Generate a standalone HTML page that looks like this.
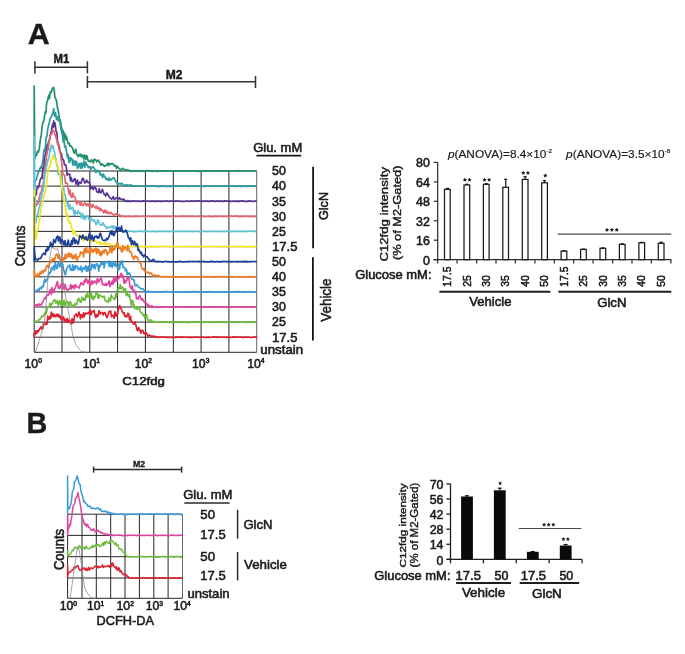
<!DOCTYPE html>
<html><head><meta charset="utf-8"><style>
html,body{margin:0;padding:0;background:#fff;}
body{width:685px;height:654px;overflow:hidden;font-family:"Liberation Sans",sans-serif;}
svg{display:block;filter:blur(0.3px);}
svg text{font-family:"Liberation Sans",sans-serif;}
</style></head><body>
<svg width="685" height="654" viewBox="0 0 685 654">
<rect width="685" height="654" fill="#fff"/>
<g stroke="#262626" stroke-width="1.0" fill="none"><line x1="34.2" y1="171" x2="34.2" y2="352.3"/><line x1="62" y1="171" x2="62" y2="352.3"/><line x1="89.8" y1="171" x2="89.8" y2="352.3"/><line x1="117.6" y1="171" x2="117.6" y2="352.3"/><line x1="145.4" y1="171" x2="145.4" y2="352.3"/><line x1="173.3" y1="171" x2="173.3" y2="352.3"/><line x1="201.1" y1="171" x2="201.1" y2="352.3"/><line x1="228.9" y1="171" x2="228.9" y2="352.3"/><line x1="256.7" y1="171" x2="256.7" y2="352.3" stroke="#555" stroke-width="0.9"/><line x1="34.2" y1="171" x2="256.7" y2="171"/><line x1="34.2" y1="186.1" x2="256.7" y2="186.1"/><line x1="34.2" y1="201.2" x2="256.7" y2="201.2"/><line x1="34.2" y1="216.3" x2="256.7" y2="216.3"/><line x1="34.2" y1="231.4" x2="256.7" y2="231.4"/><line x1="34.2" y1="246.6" x2="256.7" y2="246.6"/><line x1="34.2" y1="261.7" x2="256.7" y2="261.7"/><line x1="34.2" y1="276.8" x2="256.7" y2="276.8"/><line x1="34.2" y1="291.9" x2="256.7" y2="291.9"/><line x1="34.2" y1="307" x2="256.7" y2="307"/><line x1="34.2" y1="322.1" x2="256.7" y2="322.1"/><line x1="34.2" y1="337.2" x2="256.7" y2="337.2"/><line x1="34.2" y1="352.3" x2="256.7" y2="352.3"/></g>
<g fill="none" stroke-width="1.7" stroke-linejoin="round"><path d="M34.2 171 L34.2 86 L34.8 158.8 L35.6 154.6 L36.5 155.4 L37.4 151.3 L38.3 152.3 L39.2 149.6 L39.9 143 L40.5 139.1 L41.3 134.9 L42.1 126.7 L42.9 122.2 L43.7 121.5 L44.5 116.6 L45.2 111.8 L46 112.8 L46.6 102.9 L47.3 101.7 L48 98 L48.8 95.2 L49.5 98.7 L50.2 91.8 L50.9 92.7 L51.5 91.1 L52.4 88.6 L53.5 87.3 L54.2 90.3 L55 97.9 L55.8 98.9 L56.5 100.8 L57.5 108 L58.5 111.8 L59.5 120.4 L60.3 119.8 L61.1 125.8 L61.9 129 L62.6 132.3 L63.3 130.9 L64 138.1 L64.8 133.4 L65.5 139.7 L66.3 136.2 L67 139.6 L67.8 142.1 L68.5 143.9 L69.2 143.1 L70 146.1 L70.7 145.9 L71.6 146.8 L72.6 148.3 L73.5 151.5 L74.2 153.2 L75 150.9 L75.8 149.1 L76.5 154.4 L77.4 154.9 L78.2 156.7 L79.1 154.3 L80 155.9 L80.8 154.2 L81.5 157 L82.3 155.3 L83 155.2 L83.8 159.2 L84.5 155.2 L85.3 155.7 L86 159.5 L86.8 155.6 L87.5 158.3 L88.4 161.2 L89.3 161.2 L90.2 161.9 L91.1 160 L91.9 159.8 L92.7 162.5 L93.4 162.9 L94.2 159.1 L95 159.6 L95.8 159.8 L96.7 161.8 L97.6 160.8 L98.4 160.1 L99.3 162.1 L100.2 163.3 L101.1 165.3 L102 163.7 L102.7 164.5 L103.5 165.2 L104.2 166.3 L105 165.7 L105.7 165.8 L106.5 165.4 L107.2 164 L108 163.1 L108.7 165.7 L109.5 163.6 L110.4 164.1 L111.2 163.9 L112.1 163.7 L113 163.8 L113.9 165 L114.8 166.2 L115.6 165.4 L116.5 168.4 L117.3 166.4 L118 167.2 L118.8 168.1 L119.5 168.6 L120.3 170.1 L121 170.4 L121.8 169 L122.5 168.3 L123.3 168.7 L124 169.6 L124.9 170.8 L125.8 169.6 L126.7 169.5 L127.6 170.5 L128.4 170.1 L129.1 170.9 L129.9 170.3 L130.7 171.4 L131.4 171.4 L132.2 171.1 L133 170.8 L133.7 170.6 L134.5 171.1 L135.3 171.1 L136.1 170.8 L136.9 170.8 L137.6 171.2 L138.4 171.3 L139.2 171.3 L140 171 L141.2 171.2 L142.4 171.1 L143.6 170.8 L144.8 171 L146 170.9 L147.2 170.7 L148.4 170.7 L149.6 170.9 L150.8 170.9 L152 171.1 L153.2 171.3 L154.4 171 L155.6 171.3 L156.8 171.3 L158 171.3 L159.2 170.9 L160.4 170.8 L161.6 170.8 L162.8 170.8 L164 170.8 L165.2 171.1 L166.4 171.2 L167.6 171.2 L168.8 171 L170 171.1 L171.2 171.2 L172.4 170.8 L173.6 171.1 L174.8 171.2 L176 171.2 L177.2 171.2 L178.4 171 L179.6 170.8 L180.8 171.2 L182 170.9 L183.2 171.2 L184.4 171.3 L185.6 170.9 L186.8 170.9 L188 171.3 L189.2 171.1 L190.4 170.8 L191.6 170.8 L192.8 170.8 L194 171.2 L195.2 171.2 L196.4 170.8 L197.6 171.2 L198.8 171.3 L200 171.1 L201.2 170.9 L202.4 171 L203.6 170.8 L204.8 170.7 L206 171.3 L207.2 171.1 L208.4 171 L209.6 171.3 L210.8 171 L212 171.2 L213.2 171.2 L214.4 170.8 L215.6 170.9 L216.8 170.9 L218 170.8 L219.2 171.1 L220.4 170.9 L221.6 171 L222.8 170.8 L224 171.2 L225.2 170.9 L226.4 171 L227.6 171.1 L228.8 171.2 L230 171 L231.2 171.3 L232.4 171 L233.6 171 L234.8 171 L236 170.7 L237.2 171 L238.4 170.8 L239.6 170.7 L240.8 171.2 L242 170.8 L243.2 171 L244.4 171.1 L245.6 171 L246.8 170.9 L248 171 L249.2 171 L250.4 171.2 L251.6 170.8 L252.8 171 L254 170.8 L255.2 170.9 L256.4 171.2 L256.7 171" stroke="#23906c"/><path d="M34.2 186.1 L35 181.1 L36 180.3 L36.9 177.4 L37.6 174.8 L38.3 172.9 L39 170.6 L39.8 169.1 L40.7 166.8 L41.5 168.2 L42.4 163.2 L43.2 158.9 L43.9 150.1 L44.6 151.6 L45.4 147 L46.1 137.9 L46.9 136.4 L47.8 128.6 L48.7 124.7 L49.4 122.6 L50.1 118.4 L51 117.7 L52 114.8 L52.9 113.5 L53.7 108.7 L54.6 116.2 L55.5 112.5 L56.5 119.7 L57.5 117 L58.4 120.9 L59.3 119.7 L60 121.6 L60.6 127.2 L61.5 131 L62.5 136.1 L63.3 142.2 L64 140.1 L64.8 147.2 L65.7 146.4 L66.6 152.1 L67.5 157.6 L68.3 154.5 L69 162.5 L69.8 162.1 L70.5 157.5 L71.3 159.6 L72 158.9 L72.8 165.2 L73.5 160.4 L74.3 162.2 L75 165.5 L75.8 161.2 L76.6 161.6 L77.4 168.3 L78.1 167.5 L78.9 163.5 L79.7 163.6 L80.5 168.3 L81.3 163 L82.2 168 L83 164.8 L83.9 161.1 L84.8 167.3 L85.7 162.1 L86.6 165.1 L87.4 165.2 L88.3 167.6 L89.2 166.6 L90 166.6 L90.8 169.8 L91.7 167.3 L92.5 167.4 L93.4 166.7 L94.2 168.8 L95 169.2 L95.7 172.5 L96.5 171.4 L97.3 170.1 L98 171.7 L98.8 171.8 L99.6 170.9 L100.3 175.1 L101.1 174.4 L101.9 174.6 L102.6 177.6 L103.4 174.1 L104.2 176.1 L105.1 177.1 L105.9 179.5 L106.7 178.5 L107.5 179.4 L108.3 180.6 L109.2 177.8 L110 179.9 L110.8 180.1 L111.6 179.5 L112.5 178 L113.3 178.1 L114.1 177.8 L115.1 180.3 L116.1 182 L116.9 182.1 L117.6 184.7 L118.4 184.3 L119.2 183.4 L119.9 183.6 L120.7 184.1 L121.5 183.2 L122.2 183.6 L123 185.5 L123.8 185.8 L124.5 185.1 L125.3 186.1 L126.1 184.8 L126.8 184.9 L127.6 185.1 L128.4 185.3 L129.2 185.4 L129.9 184.9 L130.7 184.9 L131.5 185.5 L132.2 185.5 L133 186.1 L134.2 186 L135.4 185.8 L136.6 185.8 L137.8 186 L139 185.9 L140.2 186.2 L141.4 186.1 L142.6 186.3 L143.8 186.2 L145 186.2 L146.2 186.3 L147.4 186 L148.6 186 L149.8 186.4 L151 185.9 L152.2 186.2 L153.4 186.2 L154.6 185.8 L155.8 186.3 L157 186.3 L158.2 186.2 L159.4 186.3 L160.6 186.3 L161.8 185.9 L163 186.1 L164.2 186.1 L165.4 186.3 L166.6 186.3 L167.8 186.3 L169 186.2 L170.2 186.3 L171.4 186.2 L172.6 186.2 L173.8 185.9 L175 185.8 L176.2 185.9 L177.4 186 L178.6 185.9 L179.8 186.3 L181 186.1 L182.2 186.2 L183.4 186.2 L184.6 186.2 L185.8 186.1 L187 185.8 L188.2 186.3 L189.4 186.3 L190.6 186.1 L191.8 186.1 L193 186.2 L194.2 185.8 L195.4 186.3 L196.6 186 L197.8 185.9 L199 186 L200.2 186.2 L201.4 185.9 L202.6 186.3 L203.8 186.4 L205 186.1 L206.2 186 L207.4 186.1 L208.6 186.2 L209.8 186.3 L211 186.2 L212.2 186.2 L213.4 185.9 L214.6 185.9 L215.8 186 L217 186.3 L218.2 186 L219.4 186.2 L220.6 185.8 L221.8 185.8 L223 186 L224.2 186.2 L225.4 186.2 L226.6 186.2 L227.8 186 L229 186.1 L230.2 186.1 L231.4 186.1 L232.6 185.9 L233.8 186.3 L235 185.9 L236.2 186.4 L237.4 186.4 L238.6 185.8 L239.8 186.1 L241 186.3 L242.2 186.4 L243.4 186.1 L244.6 186 L245.8 185.9 L247 186.4 L248.2 185.9 L249.4 186.2 L250.6 185.9 L251.8 186.1 L253 186.4 L254.2 185.9 L255.4 186.3 L256.6 186.1 L256.7 186.1" stroke="#2b9a9c"/><path d="M34.2 201.2 L35.4 193.6 L36.2 194.9 L36.9 188.9 L37.7 186.7 L38.4 187.6 L39.2 184.7 L40.1 180.1 L41.1 178 L42 178.4 L42.9 167.9 L43.7 169.4 L44.6 156.4 L45.5 154.8 L46.3 151.3 L47.1 145.8 L47.9 144 L48.7 141.7 L49.5 140.1 L50.2 135.3 L51 132.9 L51.8 128.8 L52.5 124.2 L53.1 127.4 L53.7 120.8 L54.4 126.5 L55 122.9 L56 131.1 L56.8 132 L57.5 140.9 L58.3 143.6 L59.1 146.3 L59.8 150.2 L60.6 153.6 L61.4 153.4 L62.1 157.4 L62.9 159.8 L63.7 160.2 L64.4 165 L65.2 164.6 L66.1 165.7 L67.1 175.3 L68 174.1 L68.8 174 L69.7 174.4 L70.5 180.8 L71.3 177.7 L72.1 181.6 L72.9 181.6 L73.7 180.5 L74.4 178.8 L75.2 178.8 L76 184.2 L76.8 181.7 L77.5 180.1 L78.2 185.7 L79 183 L79.8 182.2 L80.5 183.4 L81.3 182.8 L82.2 179 L83 178.1 L83.9 180.5 L84.8 183 L85.7 182.3 L86.6 180.1 L87.4 182.3 L88.3 182.6 L89.2 181.8 L90 184.3 L90.8 189 L91.7 186.8 L92.5 187.9 L93.4 189.6 L94.2 186.9 L95 187.3 L95.9 188.5 L96.7 191.9 L97.5 191.9 L98.3 192.6 L99.2 188.6 L100 192.1 L100.8 192.9 L101.6 191.5 L102.4 189.2 L103.2 191.8 L104.1 194.2 L104.9 194.8 L105.7 196 L106.5 193.1 L107.4 193.4 L108.2 195.3 L109.1 196.5 L110 197.9 L110.8 198.2 L111.6 199.1 L112.4 198.5 L113.2 196.6 L114 198.9 L114.7 199.4 L115.5 198.6 L116.3 197.5 L117.1 197.5 L117.9 198.7 L118.7 199 L119.5 197.6 L120.3 199 L121.2 199.3 L122 199.1 L122.8 199.9 L123.7 199 L124.5 200 L125.3 201.4 L126.1 201 L126.9 201.5 L127.7 200.6 L128.4 200.7 L129.2 201.6 L130 201.2 L131.2 201.3 L132.4 201.1 L133.6 200.9 L134.8 201.2 L136 201.3 L137.2 201.2 L138.4 201.1 L139.6 201.3 L140.8 201.5 L142 201.1 L143.2 200.9 L144.4 201.1 L145.6 201.2 L146.8 201.3 L148 201 L149.2 201.4 L150.4 201.4 L151.6 201.2 L152.8 201 L154 201.5 L155.2 201.1 L156.4 201.4 L157.6 201.1 L158.8 201.1 L160 201.4 L161.2 201.1 L162.4 201.5 L163.6 201.2 L164.8 201 L166 201.1 L167.2 201.2 L168.4 201.3 L169.6 201.5 L170.8 201 L172 201.2 L173.2 201 L174.4 201.5 L175.6 201 L176.8 201 L178 201 L179.2 201.2 L180.4 201.5 L181.6 201.5 L182.8 201.4 L184 201.5 L185.2 201.5 L186.4 201.1 L187.6 201 L188.8 201.5 L190 201.4 L191.2 200.9 L192.4 201.3 L193.6 201.1 L194.8 201.1 L196 201.1 L197.2 201 L198.4 200.9 L199.6 201.1 L200.8 201.1 L202 201.5 L203.2 201 L204.4 201.5 L205.6 201 L206.8 201.1 L208 201.4 L209.2 201.4 L210.4 201.2 L211.6 200.9 L212.8 201.2 L214 201.1 L215.2 201.5 L216.4 201 L217.6 201.1 L218.8 201.5 L220 200.9 L221.2 201.2 L222.4 201.4 L223.6 201.4 L224.8 200.9 L226 200.9 L227.2 201 L228.4 201.5 L229.6 201.1 L230.8 201.4 L232 201.5 L233.2 201.1 L234.4 201.1 L235.6 201.5 L236.8 201.3 L238 201.1 L239.2 201.3 L240.4 201.1 L241.6 201.1 L242.8 200.9 L244 201.4 L245.2 201.5 L246.4 201.3 L247.6 201.5 L248.8 200.9 L250 201.1 L251.2 201.2 L252.4 201.5 L253.6 201.5 L254.8 201.2 L256 201.1 L256.7 201.2" stroke="#573795"/><path d="M34.2 216.3 L35.2 209.3 L36 203.7 L36.8 205 L37.6 204 L38.4 202.2 L39.2 197.7 L40 194.9 L40.7 192.4 L41.5 192.8 L42.3 185.7 L43 186.6 L43.8 179.7 L44.6 169.6 L45.5 165.1 L46.5 156.1 L47.3 151.3 L48.2 149.4 L49.2 140.9 L50.1 136 L51 134.5 L51.8 134.3 L52.6 129.9 L53.4 130.7 L54.2 131.7 L55.1 134.7 L56 137.7 L56.8 139.8 L57.5 144.3 L58.2 143.8 L59 149.2 L59.8 151.2 L60.5 153.9 L61.2 159.9 L62 165.4 L62.9 173.8 L63.7 174.4 L64.6 175.4 L65.5 183.3 L66.5 183 L67.4 183.7 L68.3 189.7 L69.2 194.4 L70.1 189.8 L71 196.5 L71.9 197.5 L72.9 193.1 L73.8 196.7 L74.5 196.7 L75.3 198.1 L76 201.3 L76.8 204.2 L77.5 201.4 L78.4 202.4 L79.3 201.7 L80.2 205.2 L81.1 201.9 L81.9 205.1 L82.8 205.7 L83.7 204.6 L84.5 203 L85.3 203 L86.1 205.2 L86.9 205.8 L87.7 203.7 L88.5 204.6 L89.2 206.5 L90 204 L90.8 204.7 L91.5 207.4 L92.2 206.5 L93 204.5 L93.8 206.5 L94.7 207.4 L95.5 208 L96.3 206 L97.2 208.7 L98 207.7 L98.8 207.6 L99.7 210.8 L100.5 208.5 L101.3 210 L102.2 209.8 L103 212 L103.8 212.8 L104.7 210 L105.5 212.3 L106.3 210.7 L107.2 213.4 L108 211.8 L108.8 213.2 L109.6 213.7 L110.4 212.8 L111.2 212.3 L112 213.8 L112.8 214.2 L113.6 215 L114.5 214.3 L115.3 214 L116.1 214.6 L116.9 214 L117.6 215 L118.4 216.1 L119.2 214.7 L119.9 216.2 L120.7 216.6 L121.4 215.7 L122.2 216.3 L123.4 216.1 L124.6 216.6 L125.8 216.6 L127 216.3 L128.2 216.1 L129.4 216.6 L130.6 216.3 L131.8 216.6 L133 216.4 L134.2 216.5 L135.4 216.1 L136.6 216.5 L137.8 216.2 L139 216.3 L140.2 216.5 L141.4 216.5 L142.6 216.1 L143.8 216.2 L145 216.3 L146.2 216.3 L147.4 216.3 L148.6 216.1 L149.8 216.2 L151 216.5 L152.2 216.6 L153.4 216.1 L154.6 216.4 L155.8 216.5 L157 216.1 L158.2 216.5 L159.4 216.1 L160.6 216.4 L161.8 216.4 L163 216.4 L164.2 216.2 L165.4 216.3 L166.6 216.4 L167.8 216.3 L169 216.4 L170.2 216.3 L171.4 216.3 L172.6 216 L173.8 216.4 L175 216.3 L176.2 216.2 L177.4 216.5 L178.6 216.5 L179.8 216.3 L181 216.1 L182.2 216.3 L183.4 216.1 L184.6 216.1 L185.8 216.3 L187 216.1 L188.2 216.3 L189.4 216.3 L190.6 216.1 L191.8 216.4 L193 216.1 L194.2 216.5 L195.4 216.5 L196.6 216.3 L197.8 216.1 L199 216.3 L200.2 216.3 L201.4 216.6 L202.6 216.1 L203.8 216.5 L205 216.6 L206.2 216.5 L207.4 216.5 L208.6 216.1 L209.8 216.6 L211 216.3 L212.2 216.6 L213.4 216.6 L214.6 216.1 L215.8 216.5 L217 216.6 L218.2 216.1 L219.4 216.2 L220.6 216.5 L221.8 216.1 L223 216.6 L224.2 216.2 L225.4 216.5 L226.6 216.1 L227.8 216.3 L229 216.6 L230.2 216.2 L231.4 216.2 L232.6 216.3 L233.8 216.2 L235 216.1 L236.2 216.1 L237.4 216.1 L238.6 216.6 L239.8 216.4 L241 216.6 L242.2 216.1 L243.4 216.5 L244.6 216.1 L245.8 216.3 L247 216.4 L248.2 216.2 L249.4 216.6 L250.6 216.4 L251.8 216.4 L253 216.6 L254.2 216.1 L255.4 216.6 L256.6 216.4 L256.7 216.3" stroke="#e2646c"/><path d="M34.2 231.4 L34.2 136 L35.2 221.7 L36.1 222.4 L37.1 215.3 L38 214.2 L38.9 208.2 L39.8 206.6 L40.7 197.2 L41.5 198.2 L42.2 192.5 L43 190.8 L43.8 184.1 L44.5 178.4 L45.3 172.7 L46 168.5 L46.8 164.8 L47.5 162 L48.3 158.7 L49.1 157.8 L49.9 148.9 L50.6 150.9 L51.4 145 L52.2 147.6 L53 145.8 L53.8 150.2 L54.5 151.7 L55.2 157.9 L56 158.9 L56.8 165.9 L57.5 165.5 L58.3 174.4 L59 172 L59.8 173.7 L60.6 180.5 L61.3 184.7 L62 186.5 L62.8 185.4 L63.5 186.6 L64.3 194.2 L65.1 194.7 L65.9 199.6 L66.7 200.8 L67.5 206.2 L68.2 202.6 L69 209.2 L69.8 204.5 L70.5 208.8 L71.3 208.9 L72.1 207.8 L72.9 207.7 L73.7 212 L74.4 215.3 L75.2 210.5 L76 213.8 L76.8 212.9 L77.5 213.6 L78.2 210.8 L79 212.6 L79.8 213.6 L80.5 212.8 L81.3 217.9 L82.1 217.9 L82.9 213.9 L83.6 218.8 L84.4 217.4 L85.2 219.4 L86 216.7 L86.7 216 L87.5 216.7 L88.2 215.6 L89 219.9 L89.7 219.8 L90.5 220.8 L91.2 217.9 L92 220 L92.8 220.1 L93.6 221.1 L94.4 220.1 L95.2 222.4 L96 224.4 L96.8 224.2 L97.7 219.7 L98.5 220.9 L99.4 223.6 L100.2 224.9 L101.1 224.4 L101.9 225.3 L102.7 223.2 L103.4 223.2 L104.2 225.2 L105 226 L105.7 226.5 L106.5 228.3 L107.2 227.8 L108 227.2 L108.8 227.8 L109.5 227.4 L110.3 227 L111 226.3 L111.8 227.6 L112.6 225.8 L113.3 228.8 L114.1 226.3 L114.9 226.4 L115.6 229.2 L116.4 227.5 L117.2 226.8 L117.9 227.1 L118.7 229.3 L119.5 229.4 L120.2 229.9 L121 228.7 L121.8 230.4 L122.5 231.1 L123.3 231.1 L124.1 231.3 L124.8 231.3 L125.6 231.5 L126.4 231.6 L127.1 230.6 L127.9 231.5 L129.1 231.3 L130.3 231.2 L131.5 231.2 L132.7 231.6 L133.9 231.6 L135.1 231.5 L136.3 231.6 L137.5 231.5 L138.7 231.3 L139.9 231.2 L141.1 231.2 L142.3 231.6 L143.5 231.3 L144.7 231.3 L145.9 231.4 L147.1 231.2 L148.3 231.3 L149.5 231.3 L150.7 231.6 L151.9 231.4 L153.1 231.3 L154.3 231.7 L155.5 231.4 L156.7 231.7 L157.9 231.5 L159.1 231.2 L160.3 231.4 L161.5 231.4 L162.7 231.6 L163.9 231.3 L165.1 231.6 L166.3 231.5 L167.5 231.3 L168.7 231.7 L169.9 231.2 L171.1 231.6 L172.3 231.2 L173.5 231.1 L174.7 231.3 L175.9 231.6 L177.1 231.7 L178.3 231.1 L179.5 231.4 L180.7 231.4 L181.9 231.6 L183.1 231.3 L184.3 231.4 L185.5 231.3 L186.7 231.6 L187.9 231.3 L189.1 231.7 L190.3 231.3 L191.5 231.3 L192.7 231.6 L193.9 231.4 L195.1 231.2 L196.3 231.5 L197.5 231.2 L198.7 231.6 L199.9 231.6 L201.1 231.6 L202.3 231.5 L203.5 231.4 L204.7 231.4 L205.9 231.4 L207.1 231.7 L208.3 231.2 L209.5 231.7 L210.7 231.2 L211.9 231.3 L213.1 231.3 L214.3 231.7 L215.5 231.4 L216.7 231.4 L217.9 231.7 L219.1 231.3 L220.3 231.4 L221.5 231.5 L222.7 231.6 L223.9 231.6 L225.1 231.5 L226.3 231.3 L227.5 231.3 L228.7 231.2 L229.9 231.6 L231.1 231.5 L232.3 231.6 L233.5 231.2 L234.7 231.4 L235.9 231.6 L237.1 231.5 L238.3 231.2 L239.5 231.4 L240.7 231.7 L241.9 231.3 L243.1 231.3 L244.3 231.3 L245.5 231.6 L246.7 231.6 L247.9 231.2 L249.1 231.2 L250.3 231.3 L251.5 231.3 L252.7 231.5 L253.9 231.2 L255.1 231.3 L256.3 231.3 L256.7 231.4" stroke="#62c2d6"/><path d="M34.2 246.6 L34.2 190 L35.3 238.9 L36.2 238.5 L37.2 230.5 L38.1 229 L39 222.2 L39.9 215.9 L40.8 210.6 L41.8 205.8 L42.7 201.8 L43.6 198.3 L44.5 193.6 L45.4 191.3 L46.3 185.2 L47 180.1 L47.7 174.7 L48.4 168.2 L49.1 167.4 L49.8 166.1 L50.5 165 L51.1 159.9 L51.8 159.6 L52.5 157.4 L53.3 155.3 L54 158.3 L55 159.6 L56 160 L56.6 163.5 L57.2 164.2 L58.2 167.3 L59.1 170.6 L60 173.5 L61 180.4 L61.9 187.5 L62.5 190.9 L63.2 192.6 L63.9 198.6 L64.6 203.6 L65.3 206.6 L66 211.9 L66.7 216.7 L67.4 214.1 L68.2 220.9 L68.9 220.3 L69.7 223.4 L70.5 222.2 L71.2 228 L72 227.8 L72.9 234 L73.8 232.1 L74.7 230.4 L75.6 233.7 L76.6 235.3 L77.5 234.8 L78.3 237.1 L79.2 236.2 L80 236.3 L80.8 235.7 L81.5 238.7 L82.2 237.9 L83 240.2 L83.8 241.2 L84.6 237.9 L85.3 236.1 L86.1 237.8 L86.9 236.4 L87.7 238.6 L88.4 240.1 L89.2 238.8 L90 238.8 L90.8 238.9 L91.7 242.2 L92.5 240.9 L93.3 240.1 L94.2 241 L95 240.6 L95.8 240.5 L96.7 243.3 L97.5 242.8 L98.3 242.4 L99.2 241.7 L100 244.4 L100.8 242.3 L101.6 244.1 L102.4 244.3 L103.2 243.4 L104 243.8 L104.8 242.6 L105.6 244.8 L106.4 243.4 L107.2 243.5 L108 244.3 L108.8 244.4 L109.5 244.4 L110.2 244 L111 245.8 L111.8 244.9 L112.5 245.1 L113.2 245.6 L114 245.7 L114.8 246.2 L115.6 246 L116.4 247 L117.2 246 L118 246.6 L119.2 246.7 L120.4 246.8 L121.6 246.7 L122.8 246.3 L124 246.7 L125.2 246.6 L126.4 246.3 L127.6 246.3 L128.8 246.8 L130 246.6 L131.2 246.4 L132.4 246.3 L133.6 246.3 L134.8 246.4 L136 246.7 L137.2 246.5 L138.4 246.3 L139.6 246.8 L140.8 246.7 L142 246.4 L143.2 246.8 L144.4 246.6 L145.6 246.7 L146.8 246.7 L148 246.8 L149.2 246.7 L150.4 246.8 L151.6 246.4 L152.8 246.7 L154 246.6 L155.2 246.7 L156.4 246.5 L157.6 246.8 L158.8 246.6 L160 246.4 L161.2 246.4 L162.4 246.3 L163.6 246.5 L164.8 246.3 L166 246.5 L167.2 246.3 L168.4 246.5 L169.6 246.5 L170.8 246.6 L172 246.8 L173.2 246.3 L174.4 246.8 L175.6 246.5 L176.8 246.6 L178 246.6 L179.2 246.8 L180.4 246.5 L181.6 246.5 L182.8 246.8 L184 246.3 L185.2 246.6 L186.4 246.6 L187.6 246.3 L188.8 246.6 L190 246.7 L191.2 246.8 L192.4 246.4 L193.6 246.8 L194.8 246.6 L196 246.5 L197.2 246.8 L198.4 246.3 L199.6 246.7 L200.8 246.6 L202 246.5 L203.2 246.8 L204.4 246.5 L205.6 246.5 L206.8 246.6 L208 246.7 L209.2 246.4 L210.4 246.5 L211.6 246.5 L212.8 246.6 L214 246.7 L215.2 246.4 L216.4 246.7 L217.6 246.5 L218.8 246.6 L220 246.4 L221.2 246.6 L222.4 246.8 L223.6 246.6 L224.8 246.7 L226 246.4 L227.2 246.4 L228.4 246.4 L229.6 246.6 L230.8 246.6 L232 246.7 L233.2 246.3 L234.4 246.7 L235.6 246.8 L236.8 246.6 L238 246.3 L239.2 246.4 L240.4 246.3 L241.6 246.4 L242.8 246.8 L244 246.6 L245.2 246.6 L246.4 246.7 L247.6 246.8 L248.8 246.6 L250 246.6 L251.2 246.6 L252.4 246.7 L253.6 246.6 L254.8 246.7 L256 246.4 L256.7 246.6" stroke="#f1e52a"/><path d="M34.2 261.7 L34.2 246.5 L34.9 254.9 L35.5 259.6 L36.3 259.2 L37.2 260.1 L38 259.9 L38.9 258.4 L39.8 258.6 L40.7 258.2 L41.5 256.7 L42.2 254.8 L43 254.3 L43.8 253.1 L44.5 253.8 L45.3 254.7 L46 249.5 L46.8 251.2 L47.5 247.6 L48.3 250 L49.1 247.3 L49.9 245.6 L50.6 242.3 L51.3 244.2 L52 247 L52.9 245.4 L53.7 239.6 L54.5 241.9 L55.3 242.6 L56.2 238.4 L57 236.9 L57.7 236.1 L58.4 241 L59.2 237.1 L59.9 237.1 L60.6 243.3 L61.5 239.8 L62.4 240.1 L63.2 241.8 L64.1 245 L65 240.6 L65.8 245.2 L66.6 244.3 L67.4 245 L68.2 240.2 L69 244.5 L69.8 245.7 L70.7 246.3 L71.6 240.5 L72.5 244.2 L73.3 237.9 L74.2 238.5 L75.1 243.5 L75.9 240 L76.7 241.1 L77.5 243.6 L78.2 244 L79 240.2 L79.8 235.7 L80.5 236.9 L81.2 236.9 L82 238.6 L82.8 235 L83.6 236.6 L84.4 238.8 L85.2 238.9 L86 237 L86.7 239.6 L87.5 240.2 L88.2 238.5 L89 234.7 L89.7 233 L90.5 239.9 L91.2 238.8 L92 235.3 L92.7 237.8 L93.5 240.8 L94.2 238.2 L95 236.4 L95.8 236.9 L96.5 236.1 L97.3 238 L98 237 L98.8 238.1 L99.6 234.7 L100.4 233.2 L101.2 235.8 L102 238.6 L102.8 240.2 L103.5 240.5 L104.2 240.3 L105 240.2 L105.8 240.5 L106.5 238.4 L107.3 239.5 L108.2 238.4 L109 236.7 L110 233.2 L111 230.8 L111.8 234.3 L112.5 231.2 L113.2 234.8 L114 235.7 L114.8 232.7 L115.6 232.2 L116.4 229.5 L117.2 227.4 L117.6 228.7 L118.4 229.6 L119.2 227.7 L120 230.9 L120.7 230.4 L121.5 226.1 L122.2 230.9 L123.1 232.2 L124 231.1 L124.8 231.7 L125.5 230.2 L126.3 230.9 L127 232.3 L127.7 235 L128.5 238 L129.2 238.3 L129.9 240.6 L130.7 237.8 L131.4 244.6 L132.2 240.5 L133 242.9 L133.7 244.7 L134.5 241.3 L135.2 243.3 L136 245.4 L136.8 243.7 L137.5 244.9 L138.2 250.7 L139 249.5 L139.8 251.3 L140.5 253.5 L141.3 252.3 L142.1 255.2 L142.8 255 L143.6 256.9 L144.3 255 L145.1 255.2 L145.8 256.6 L146.5 256.8 L147.3 256.8 L148.2 258.7 L149 259.1 L149.8 261.1 L150.6 261.4 L151.5 260.6 L152.3 260 L153.2 259.3 L154 259.9 L154.9 261.1 L155.7 261.6 L156.6 261.8 L157.4 261.4 L158.6 261.6 L159.8 261.6 L161 261.5 L162.2 261.9 L163.4 262 L164.6 261.5 L165.8 261.4 L167 261.5 L168.2 261.6 L169.4 261.9 L170.6 261.9 L171.8 261.9 L173 261.4 L174.2 261.8 L175.4 261.8 L176.6 261.7 L177.8 262 L179 261.4 L180.2 261.4 L181.4 261.8 L182.6 261.9 L183.8 261.8 L185 261.5 L186.2 261.7 L187.4 261.8 L188.6 261.4 L189.8 261.6 L191 261.5 L192.2 261.4 L193.4 261.6 L194.6 261.5 L195.8 261.5 L197 261.4 L198.2 261.8 L199.4 261.4 L200.6 261.8 L201.8 261.5 L203 261.4 L204.2 261.9 L205.4 261.5 L206.6 261.9 L207.8 261.9 L209 261.9 L210.2 261.4 L211.4 261.6 L212.6 261.4 L213.8 261.9 L215 261.9 L216.2 261.7 L217.4 261.6 L218.6 261.6 L219.8 261.9 L221 261.6 L222.2 261.7 L223.4 261.4 L224.6 261.5 L225.8 261.4 L227 261.8 L228.2 261.7 L229.4 261.4 L230.6 261.9 L231.8 261.5 L233 261.6 L234.2 261.5 L235.4 261.5 L236.6 261.9 L237.8 261.6 L239 261.5 L240.2 261.7 L241.4 261.6 L242.6 261.9 L243.8 261.4 L245 261.9 L246.2 261.4 L247.4 261.9 L248.6 261.8 L249.8 261.5 L251 261.6 L252.2 261.5 L253.4 261.5 L254.6 261.5 L255.8 261.6 L256.7 261.7" stroke="#1c3f98"/><path d="M34.2 276.8 L34.2 270 L35 277.2 L35.9 275.1 L36.8 276.6 L37.6 273.9 L38.5 275 L39.2 275.3 L40 272.1 L40.7 274.2 L41.5 272.3 L42.2 270.7 L43 272.9 L43.8 271 L44.5 269.8 L45.3 271.2 L46 267.3 L46.8 266 L47.5 265.5 L48.3 267.9 L49 266.9 L49.8 262.3 L50.5 261 L51.3 262.6 L52.1 259.4 L52.9 258.2 L53.6 260.2 L54.3 260.2 L55 258.6 L55.8 255.4 L56.7 253.9 L57.5 255.4 L58.3 258.5 L59 254.7 L59.8 257.6 L60.6 261.9 L61.4 261.9 L62.2 259.4 L62.9 261.7 L63.7 257.8 L64.5 259.4 L65.2 254.4 L66 258.7 L66.7 255.6 L67.5 254.1 L68.2 256.8 L69 252.8 L69.7 256.5 L70.5 256.4 L71.2 253.7 L72 257.9 L72.7 258.6 L73.5 255.3 L74.3 258.4 L75 256.5 L75.8 254.2 L76.6 259.7 L77.4 260.1 L78.1 256.9 L78.9 256.7 L79.7 256.1 L80.5 251.8 L81.2 253.1 L82 252.9 L82.8 252.3 L83.5 257 L84.2 249.9 L85 248.9 L85.8 252.9 L86.5 247.7 L87.2 252 L88 251.7 L88.8 252.7 L89.5 248.5 L90.3 254.6 L91.1 248.5 L91.8 249.1 L92.6 252 L93.4 252.1 L94.2 249 L95 250.7 L95.8 248.2 L96.6 253.7 L97.4 248.8 L98.2 252.4 L99 249.6 L99.7 254.6 L100.5 255.6 L101.2 251.5 L101.9 254.7 L102.7 251.9 L103.4 250.5 L104.2 253 L104.9 249.9 L105.7 249.6 L106.5 250.5 L107.2 254.9 L108 252.8 L108.8 252.7 L109.5 251.9 L110.3 246 L111.1 249.7 L111.8 252.8 L112.6 247.5 L113.3 248.7 L114 250.2 L114.8 249.2 L115.5 245 L116.3 246.4 L117.1 242.4 L117.9 242.9 L118.7 248.7 L119.5 248.1 L120.3 247.9 L121.2 250.5 L122 252.2 L122.8 245.7 L123.7 250 L124.5 247 L125.3 246.9 L126.2 248.4 L127 250.8 L127.9 245.4 L128.9 250 L129.9 252 L130.7 251.8 L131.4 253 L132.2 256.6 L133 256.8 L133.8 259.3 L134.5 256.1 L135.2 256.1 L136 257.5 L136.8 256.7 L137.7 258.2 L138.5 260.7 L139.2 262.4 L139.9 262.8 L140.6 262.9 L141.3 266.4 L142.1 268.8 L142.8 268.6 L143.5 269.8 L144.3 268.7 L145.1 271.7 L145.9 271.7 L146.7 272.5 L147.4 272.4 L148.1 272.3 L148.8 272.5 L149.5 273.9 L150.3 273.6 L151.2 272.9 L152 274.2 L152.8 276 L153.6 275.4 L154.3 275.3 L155.1 274.9 L155.9 276.5 L156.7 276.2 L157.4 275.3 L158.2 275.4 L159 276.2 L159.7 276.1 L160.5 276.8 L161.7 276.7 L162.9 276.7 L164.1 276.9 L165.3 276.5 L166.5 276.6 L167.7 277 L168.9 276.9 L170.1 276.6 L171.3 276.7 L172.5 276.7 L173.7 276.9 L174.9 276.8 L176.1 277 L177.3 277 L178.5 276.8 L179.7 276.9 L180.9 276.9 L182.1 276.9 L183.3 276.8 L184.5 276.9 L185.7 276.9 L186.9 277 L188.1 276.5 L189.3 277 L190.5 276.5 L191.7 276.9 L192.9 276.8 L194.1 276.8 L195.3 277 L196.5 276.8 L197.7 276.7 L198.9 276.9 L200.1 277 L201.3 276.8 L202.5 276.7 L203.7 276.7 L204.9 276.7 L206.1 276.9 L207.3 276.6 L208.5 276.7 L209.7 276.8 L210.9 276.7 L212.1 276.7 L213.3 276.9 L214.5 277 L215.7 276.8 L216.9 276.7 L218.1 276.6 L219.3 276.7 L220.5 276.6 L221.7 276.8 L222.9 276.8 L224.1 276.5 L225.3 277 L226.5 276.7 L227.7 277 L228.9 277 L230.1 277 L231.3 276.6 L232.5 276.7 L233.7 277 L234.9 276.5 L236.1 276.5 L237.3 276.8 L238.5 276.8 L239.7 277 L240.9 276.9 L242.1 276.8 L243.3 277.1 L244.5 276.8 L245.7 276.8 L246.9 276.9 L248.1 276.7 L249.3 276.7 L250.5 276.8 L251.7 276.7 L252.9 277 L254.1 276.9 L255.3 276.8 L256.5 276.5 L256.7 276.8" stroke="#ef7c26"/><path d="M34.2 291.9 L35 291.2 L35.9 290.7 L36.8 291.2 L37.6 289.6 L38.5 289.2 L39.2 290.6 L40 287.9 L40.7 287.9 L41.5 288.5 L42.2 286 L43 286.9 L43.7 284.5 L44.5 279.4 L45.3 282.2 L46 279.9 L46.8 280.4 L47.6 278.8 L48.4 275 L49.2 272.3 L50 273.3 L50.7 271.6 L51.5 267.7 L52.2 269.6 L52.9 268.3 L53.7 265.8 L54.5 270.1 L55.2 262.7 L56 265.6 L56.8 268.6 L57.5 267.7 L58.2 261.9 L59 263.4 L59.8 266.8 L60.5 265.3 L61.3 261.7 L62.1 263.8 L62.8 264.3 L63.5 269.3 L64.3 271.5 L65.2 274.9 L66 272.3 L66.7 268.8 L67.5 267.4 L68.3 266.3 L69 265.4 L69.8 265.1 L70.5 270.2 L71.3 268.8 L72 270.3 L72.8 264.9 L73.5 270.3 L74.3 266.6 L75.1 269.2 L75.8 265.5 L76.6 266.9 L77.4 266.4 L78.3 269.7 L79.2 268.3 L80.1 269.5 L81 266.3 L81.8 271.9 L82.6 268.9 L83.4 267.6 L84.2 269.4 L85 267.3 L85.8 265.7 L86.5 271.4 L87.2 266.9 L88 270.8 L88.8 266 L89.6 267.8 L90.4 270 L91.2 269.5 L92 264.2 L92.7 265.1 L93.5 267.6 L94.2 264.7 L95 268.8 L95.8 265.6 L96.5 263.9 L97.3 264 L98 266.1 L98.8 271.1 L99.5 265.4 L100.3 266.5 L101 262.3 L101.8 264 L102.5 264.2 L103.3 262.1 L104.1 267.9 L104.9 264 L105.7 262.6 L106.5 261.8 L107.4 262.4 L108.2 261.3 L109.1 266.4 L110 262.8 L110.8 266.7 L111.5 261.9 L112.3 267.2 L113.1 261.5 L113.8 263.5 L114.6 265.9 L115.5 263 L116.5 266.4 L117.2 266.4 L118 270.2 L118.8 264 L119.5 269.1 L120.2 263.1 L121 264 L121.7 260.9 L122.3 262.2 L123 267.4 L123.9 267.3 L124.8 267.7 L125.6 271 L126.5 269.5 L127.2 274.6 L128 273 L128.8 274 L129.5 273.1 L130.3 275 L131.2 278.3 L132.1 279.4 L132.9 279.6 L133.6 279.3 L134.3 281.1 L135 285.7 L136 285.8 L137 284.7 L138 286.1 L139 287.2 L139.9 287.8 L140.9 289 L141.7 288.8 L142.6 288.7 L143.4 289.4 L144.2 290.3 L145 291.9 L145.9 292.1 L146.7 292.2 L147.5 291.2 L148.3 291.1 L149.1 292 L149.9 291.9 L150.8 291.5 L151.6 291.9 L152.4 292 L153.2 291.7 L154 292 L155.2 292.1 L156.4 291.8 L157.6 292 L158.8 291.7 L160 291.6 L161.2 292.1 L162.4 292 L163.6 292 L164.8 291.6 L166 291.6 L167.2 291.7 L168.4 291.7 L169.6 291.8 L170.8 291.8 L172 291.6 L173.2 291.8 L174.4 292 L175.6 291.7 L176.8 292.1 L178 291.9 L179.2 292 L180.4 291.7 L181.6 291.8 L182.8 292 L184 291.8 L185.2 291.6 L186.4 292.1 L187.6 292 L188.8 291.8 L190 291.6 L191.2 292.1 L192.4 291.9 L193.6 291.6 L194.8 291.7 L196 291.6 L197.2 292.1 L198.4 291.7 L199.6 292.1 L200.8 292 L202 291.6 L203.2 292 L204.4 291.8 L205.6 292 L206.8 292.1 L208 291.7 L209.2 291.6 L210.4 292.1 L211.6 291.8 L212.8 292.1 L214 292 L215.2 292 L216.4 292.1 L217.6 292 L218.8 291.9 L220 291.6 L221.2 292 L222.4 291.8 L223.6 291.9 L224.8 292.1 L226 291.7 L227.2 292 L228.4 291.6 L229.6 292 L230.8 292.1 L232 291.7 L233.2 291.9 L234.4 292.2 L235.6 292 L236.8 291.9 L238 291.7 L239.2 291.6 L240.4 291.8 L241.6 291.8 L242.8 291.7 L244 291.8 L245.2 291.7 L246.4 292 L247.6 292 L248.8 291.7 L250 291.7 L251.2 291.9 L252.4 291.8 L253.6 292.1 L254.8 291.8 L256 291.8 L256.7 291.9" stroke="#3a9bd8"/><path d="M34.2 307 L35 305.9 L35.9 304.7 L36.8 304.9 L37.6 305.5 L38.5 303.8 L39.2 305 L40 304.3 L40.7 305 L41.5 304.9 L42.2 302.8 L43 301.7 L43.8 299.7 L44.5 298.9 L45.3 297.4 L46 298.7 L46.8 294.8 L47.5 295 L48.3 295.1 L49 293.8 L49.8 291.2 L50.5 289.6 L51.3 294.3 L52 287.6 L52.8 291 L53.6 292.5 L54.4 289.4 L55.2 287.9 L56 285.8 L56.8 283.2 L57.5 281.6 L58.3 288.1 L59.1 286.4 L59.8 288.5 L60.6 286.3 L61.3 284 L62 284.6 L62.8 283.5 L63.5 288.7 L64.3 288.9 L65.1 284.4 L65.9 287.9 L66.7 289.8 L67.5 290.3 L68.3 289.2 L69.1 289.3 L69.9 288.5 L70.7 284.6 L71.5 289 L72.2 285.6 L73 287.1 L73.7 285.7 L74.4 288.8 L75.2 284.6 L75.9 286.6 L76.7 286.3 L77.5 287 L78.4 287.3 L79.2 288 L80 285.3 L80.9 282.7 L81.8 283.1 L82.6 284.5 L83.5 284.8 L84.3 280.4 L85.1 281.9 L85.9 278.9 L86.7 279.1 L87.5 283.2 L88.2 281.9 L89 280.2 L89.7 286 L90.5 285.6 L91.2 282.1 L92 281 L92.7 283.8 L93.5 282.7 L94.2 281.1 L95 281.3 L95.8 282.4 L96.5 283.9 L97.3 278.6 L98 279.9 L98.8 282 L99.5 280.3 L100.3 278.9 L101 277.9 L101.8 280.8 L102.5 284.7 L103.3 284.2 L104.1 284.7 L104.9 285.2 L105.7 283.4 L106.5 285.4 L107.4 284.5 L108.2 283.3 L109.1 280.9 L110 286.6 L110.8 283.1 L111.5 284.1 L112.2 281.1 L113 284.2 L113.8 277.4 L114.5 282.1 L115.3 280.2 L116.1 277.2 L116.8 280.8 L117.5 279.6 L118.3 277.9 L119 278.3 L119.9 276.5 L120.8 273.7 L121.7 273.6 L122.5 277.7 L123.2 275.9 L124 283.2 L124.8 280 L125.5 282.8 L126.3 280.8 L127 280.2 L127.6 276.5 L128.3 277.8 L129.1 279 L129.9 286.4 L130.7 287.7 L131.4 288.8 L132.2 285.6 L132.9 290 L133.8 289.9 L134.7 292.9 L135.6 291.5 L136.5 298.8 L137.3 298 L138.1 299 L139 296.6 L139.8 295.4 L140.6 297.6 L141.4 300 L142.2 298.8 L143 299.9 L143.8 301.5 L144.5 302.5 L145.2 301.7 L146 303 L146.7 303.7 L147.4 305.2 L148.1 304.7 L148.9 305.6 L149.6 306.7 L150.4 306.2 L151.3 307.1 L152.1 305.8 L153 307.2 L153.8 307.3 L154.7 307.2 L155.5 307.1 L156.7 307.2 L157.9 306.8 L159.1 306.9 L160.3 307.1 L161.5 307.3 L162.7 307.1 L163.9 306.7 L165.1 307.1 L166.3 306.7 L167.5 307 L168.7 307.2 L169.9 306.8 L171.1 307.2 L172.3 307.1 L173.5 306.8 L174.7 306.8 L175.9 307 L177.1 307.2 L178.3 307 L179.5 306.8 L180.7 306.7 L181.9 306.8 L183.1 307.2 L184.3 306.8 L185.5 307 L186.7 306.9 L187.9 307.1 L189.1 306.9 L190.3 306.8 L191.5 307.2 L192.7 307 L193.9 307.1 L195.1 307.2 L196.3 307.3 L197.5 306.7 L198.7 306.9 L199.9 306.8 L201.1 307 L202.3 307.2 L203.5 307.2 L204.7 306.7 L205.9 306.8 L207.1 307.2 L208.3 307.1 L209.5 306.9 L210.7 307 L211.9 306.8 L213.1 307.2 L214.3 306.9 L215.5 307.2 L216.7 307.1 L217.9 306.7 L219.1 306.9 L220.3 306.8 L221.5 307.2 L222.7 307 L223.9 306.7 L225.1 306.8 L226.3 306.9 L227.5 307 L228.7 307 L229.9 306.9 L231.1 306.9 L232.3 306.7 L233.5 307 L234.7 306.9 L235.9 306.7 L237.1 307 L238.3 307.3 L239.5 306.7 L240.7 306.8 L241.9 307.1 L243.1 306.9 L244.3 306.9 L245.5 307 L246.7 306.8 L247.9 307 L249.1 307 L250.3 307.3 L251.5 307.3 L252.7 306.7 L253.9 307 L255.1 307.2 L256.3 307.2 L256.7 307" stroke="#e2449c"/><path d="M34.2 322.1 L35 322.1 L35.8 321.1 L36.5 321.6 L37.2 321.4 L38 321 L38.8 319.7 L39.5 319.6 L40.4 318.9 L41.2 317.4 L42.1 316.1 L42.9 316.4 L43.8 315.4 L44.6 313.9 L45.4 312.2 L46.2 313.9 L47 309.4 L47.7 307.7 L48.5 306.9 L49.2 306.7 L49.9 303.3 L50.7 307.6 L51.5 303.9 L52.2 303.8 L53 301.5 L53.8 300.5 L54.5 299.6 L55.2 300.8 L56 303.1 L56.8 301.9 L57.5 300.6 L58.2 305.3 L59 303.9 L59.8 300.7 L60.5 303.5 L61.3 305.3 L62.1 300.1 L62.8 301 L63.5 305 L64.3 300.6 L65 306.9 L65.8 302.9 L66.6 302.9 L67.4 301.5 L68.2 303.4 L69 305.7 L69.7 302.2 L70.5 301.9 L71.2 304.6 L72 306.5 L72.8 305 L73.6 305.2 L74.3 306.3 L75.1 303.5 L75.9 304.6 L76.8 304.3 L77.7 300 L78.6 298.3 L79.5 300.2 L80.3 302.2 L81.1 302.3 L81.9 297.3 L82.7 298.2 L83.5 300.3 L84.3 298.3 L85.1 300.1 L85.9 295.1 L86.7 297.1 L87.5 293.4 L88.2 297.2 L89 295.9 L89.7 296.5 L90.5 293.6 L91.2 291.6 L92 298.7 L92.7 296.3 L93.5 299.7 L94.2 296.9 L95 297.4 L95.8 294.1 L96.5 292.9 L97.3 293 L98 297.9 L98.8 298.4 L99.4 294.9 L100 295.1 L100.9 295.8 L101.8 296.8 L102.6 297.3 L103.5 296.3 L104.2 296.2 L105 300.1 L105.8 301 L106.5 301.5 L107.3 301.4 L108 302.4 L108.8 298.2 L109.6 298.4 L110.4 301.2 L111.2 294.9 L112 297.1 L112.9 298 L113.8 298.3 L114.7 299.7 L115.6 294.3 L116.3 297.3 L117 290.7 L117.8 290 L118.5 287.8 L119.4 288.7 L120.3 284.5 L121.2 288.8 L122.1 287.1 L123 287.5 L123.9 292.4 L124.8 289.1 L125.5 288.8 L126.3 295.6 L127 292.7 L127.8 295 L128.6 296.3 L129.4 294.5 L130.1 298.4 L130.7 300.4 L131.4 305.2 L132.1 300.4 L132.8 301 L133.5 305.7 L134.2 304.9 L135 308.7 L135.8 307.6 L136.5 306.9 L137.3 309.6 L138.2 308.2 L139 307 L139.8 309.6 L140.7 312.4 L141.5 312.5 L142.3 313.5 L143.2 315.5 L144.1 314.6 L144.9 318.2 L145.8 316.7 L146.7 315 L147.4 318.9 L148.2 320.2 L149 320.2 L149.9 320.8 L150.7 319.8 L151.5 320.8 L152.3 322 L153.2 321.2 L154 322.2 L155.2 322.2 L156.4 322.2 L157.6 322.1 L158.8 322.1 L160 322.3 L161.2 321.9 L162.4 322.3 L163.6 322 L164.8 322.3 L166 322.3 L167.2 321.9 L168.4 322.3 L169.6 322.4 L170.8 322 L172 321.8 L173.2 321.9 L174.4 322.4 L175.6 321.8 L176.8 322.3 L178 321.9 L179.2 322.2 L180.4 321.9 L181.6 321.9 L182.8 322.2 L184 321.9 L185.2 322 L186.4 322.4 L187.6 322.2 L188.8 322.3 L190 322.4 L191.2 321.8 L192.4 321.9 L193.6 322.3 L194.8 322.2 L196 321.8 L197.2 322.1 L198.4 321.9 L199.6 322.1 L200.8 321.9 L202 321.8 L203.2 322.4 L204.4 322 L205.6 322.3 L206.8 321.9 L208 322.1 L209.2 321.9 L210.4 322.1 L211.6 321.9 L212.8 322.2 L214 321.9 L215.2 322.2 L216.4 322.1 L217.6 321.9 L218.8 322 L220 322.1 L221.2 322.4 L222.4 322 L223.6 321.9 L224.8 322.4 L226 322.3 L227.2 322.2 L228.4 322 L229.6 321.9 L230.8 322 L232 321.8 L233.2 321.8 L234.4 322.1 L235.6 322 L236.8 322.1 L238 322 L239.2 321.8 L240.4 322.2 L241.6 322.2 L242.8 322.1 L244 322.1 L245.2 322.2 L246.4 322.4 L247.6 322.3 L248.8 322.2 L250 322 L251.2 322 L252.4 322.1 L253.6 322.4 L254.8 322 L256 322 L256.7 322.1" stroke="#6cbd3c"/><path d="M34.2 337.2 L34.2 333 L35 334.5 L35.8 330.9 L36.7 333.5 L37.6 330.5 L38.5 331.6 L39.3 329.3 L40.2 328.2 L41 326.8 L41.8 328.9 L42.7 328.8 L43.5 323.6 L44.4 324 L45.4 324.6 L46.3 322.6 L47 324 L47.8 316.2 L48.5 319.5 L49.2 319 L50 316.2 L50.7 318.4 L51.4 312.1 L52.2 316.1 L53 313.8 L53.7 316.6 L54.5 314.6 L55.2 316.3 L56 316.8 L56.8 314.3 L57.5 316 L58.2 314.2 L59 317.4 L59.8 315.4 L60.5 317.3 L61.3 319.8 L62 319.1 L62.8 317.4 L63.6 316.9 L64.4 321.9 L65.2 319.3 L65.9 319.6 L66.7 321.8 L67.5 318.4 L68.3 322.3 L69 320 L69.8 321.1 L70.5 323.1 L71.3 323.8 L72.1 318.6 L72.9 323.1 L73.7 321.9 L74.5 316 L75.2 315.1 L76 313.9 L76.7 314.8 L77.4 317.1 L78.2 314.5 L78.9 312 L79.7 314.4 L80.5 318.8 L81.2 314.9 L82 315.2 L82.8 317.5 L83.5 312.7 L84.3 316.5 L85.1 314.1 L85.8 313.1 L86.6 313.8 L87.3 313.3 L88.1 313.5 L88.8 312.1 L89.5 314.3 L90.3 310.1 L91 314.7 L91.8 311.5 L92.6 312 L93.3 311.5 L94.1 310.5 L94.9 315.2 L95.7 317.5 L96.6 314.6 L97.4 316.7 L98.3 314.8 L99.1 310.7 L100 313.9 L100.8 313.2 L101.6 312.3 L102.5 313.1 L103.3 314.9 L104.1 312.5 L104.9 312.5 L105.7 314.2 L106.5 317.1 L107.2 317.4 L108 314.9 L108.8 311.9 L109.7 311.9 L110.6 310.9 L111.5 316.8 L112.4 315.4 L113.2 315.2 L114.1 318.2 L115 311.7 L116 316.1 L116.7 313.7 L117.5 314.8 L118.2 309.5 L119 307.9 L119.7 305.7 L120.6 307.6 L121.5 309.5 L122.5 312 L123.4 313.6 L124.1 312.7 L124.8 316.4 L125.5 315.6 L126.2 316.8 L127 316.7 L127.7 313.3 L128.6 313.6 L129.6 319.9 L130.5 316.4 L131.3 321.6 L132.1 321.3 L132.8 323 L133.6 324.1 L134.3 323.5 L135.1 322 L135.8 325 L136.5 327.2 L137.2 330.4 L137.9 330.5 L138.7 327.7 L139.4 329.3 L140.2 330.8 L140.9 333.2 L141.7 330.3 L142.5 330.4 L143.2 330.9 L143.9 333.7 L144.6 333.3 L145.3 333.8 L146.1 332.7 L146.9 333.9 L147.7 335.9 L148.6 336.1 L149.4 335 L150.2 335.4 L151 336.5 L151.8 336.1 L152.6 336.1 L153.5 336.4 L154.3 336.2 L155.1 337.2 L155.9 336.5 L156.8 337.2 L157.6 336.8 L158.4 337.3 L159.6 337.1 L160.8 337.2 L162 337.2 L163.2 337.2 L164.4 337.1 L165.6 337.1 L166.8 337.4 L168 337.1 L169.2 337.3 L170.4 337.4 L171.6 337.3 L172.8 337.2 L174 337.5 L175.2 337.2 L176.4 337.4 L177.6 336.9 L178.8 337.2 L180 337.3 L181.2 336.9 L182.4 337.4 L183.6 337 L184.8 337.3 L186 337 L187.2 337.5 L188.4 337.2 L189.6 337.4 L190.8 337.2 L192 337.3 L193.2 337.3 L194.4 337.1 L195.6 337 L196.8 337.4 L198 337 L199.2 337.5 L200.4 337 L201.6 337 L202.8 337 L204 337.4 L205.2 337.5 L206.4 337.2 L207.6 337.3 L208.8 337.1 L210 337.5 L211.2 337.3 L212.4 337 L213.6 336.9 L214.8 337.3 L216 336.9 L217.2 337.4 L218.4 337.1 L219.6 337 L220.8 337.3 L222 337.1 L223.2 337.2 L224.4 337 L225.6 337.5 L226.8 337.1 L228 337.4 L229.2 337 L230.4 337.4 L231.6 337.5 L232.8 337.1 L234 336.9 L235.2 337.1 L236.4 337.3 L237.6 337 L238.8 337.2 L240 337 L241.2 337.2 L242.4 337.3 L243.6 337.2 L244.8 337.3 L246 337 L247.2 337.4 L248.4 337 L249.6 337.5 L250.8 337.5 L252 337.5 L253.2 337.2 L254.4 337.1 L255.6 337.1 L256.7 337.4 L256.7 337.2" stroke="#dc2230"/><path d="M34.2 352.3 L35.2 352.1 L36 350.2 L36.7 348.2 L37.5 346.1 L38.4 343 L39.2 340.3 L40.1 337.8 L41 334.9 L41.8 332.3 L42.5 328.9 L43.2 326.8 L44 324.5 L44.8 318.4 L45.5 312.1 L46.3 302.7 L46.9 291.9 L47.4 285.4 L48.5 270.2 L49.3 263.2 L50.1 257.3 L51 249.9 L52 248.1 L53 248.2 L54 248 L54.8 248.7 L55.5 249.3 L56.2 249.6 L57 248.5 L57.8 250 L58.5 252.2 L59.2 254.9 L60 258.3 L60.9 261.6 L61.8 265.7 L62.6 274 L63.4 282.9 L64.2 288.4 L65.1 293 L65.9 298.3 L66.7 303.4 L67.5 306.8 L68.3 311.5 L69.1 314.9 L69.9 319.1 L70.7 322.9 L71.5 327.7 L72.3 332.4 L73.1 337.3 L73.9 339.2 L74.8 341.2 L75.6 343.7 L76.4 345.4 L77.2 346.7 L78 347.7 L78.8 348.4 L79.6 349.6 L80.4 350.4 L81.2 351.3 L82 351.7 L82.8 351.7 L83.6 351.8 L84.4 352 L85.2 352.2 L86 352.3" stroke="#8a8a8a" stroke-width="0.8"/></g>
<line x1="34.3" y1="197" x2="34.3" y2="246" stroke="#7c7a45" stroke-width="1.3"/>
<g stroke="#333" stroke-width="1.55"><line x1="34.9" y1="67.3" x2="87.4" y2="67.3"/><line x1="34.9" y1="61.2" x2="34.9" y2="73.4"/><line x1="87.4" y1="61.2" x2="87.4" y2="73.4"/><line x1="87.4" y1="81.7" x2="255.5" y2="81.7"/><line x1="87.4" y1="76" x2="87.4" y2="88"/><line x1="255.5" y1="76" x2="255.5" y2="88"/></g>
<g stroke="#151515" stroke-width="1.8"><line x1="256.5" y1="155.7" x2="301.2" y2="155.7"/><line x1="313.1" y1="166.7" x2="313.1" y2="248.2"/><line x1="312.9" y1="257.2" x2="312.9" y2="340.5"/></g>
<g stroke="#2a2a2a" stroke-width="1.2"><line x1="437.7" y1="162.3" x2="437.7" y2="259.7"/><line x1="433.3" y1="259.7" x2="671.3" y2="259.7"/><line x1="433.8" y1="259.7" x2="437.7" y2="259.7"/><line x1="433.8" y1="240.2" x2="437.7" y2="240.2"/><line x1="433.8" y1="220.8" x2="437.7" y2="220.8"/><line x1="433.8" y1="201.3" x2="437.7" y2="201.3"/><line x1="433.8" y1="181.9" x2="437.7" y2="181.9"/><line x1="433.8" y1="162.4" x2="437.7" y2="162.4"/><line x1="437.7" y1="259.7" x2="437.7" y2="263.6"/><line x1="457.1" y1="259.7" x2="457.1" y2="263.6"/><line x1="476.6" y1="259.7" x2="476.6" y2="263.6"/><line x1="496" y1="259.7" x2="496" y2="263.6"/><line x1="515.4" y1="259.7" x2="515.4" y2="263.6"/><line x1="534.9" y1="259.7" x2="534.9" y2="263.6"/><line x1="554.3" y1="259.7" x2="554.3" y2="263.6"/><line x1="573.7" y1="259.7" x2="573.7" y2="263.6"/><line x1="593.1" y1="259.7" x2="593.1" y2="263.6"/><line x1="612.6" y1="259.7" x2="612.6" y2="263.6"/><line x1="632" y1="259.7" x2="632" y2="263.6"/><line x1="651.4" y1="259.7" x2="651.4" y2="263.6"/><line x1="670.9" y1="259.7" x2="670.9" y2="263.6"/></g>
<g stroke="#1a1a1a" stroke-width="1.25" fill="#fff"><rect x="444.5" y="189.4" width="5.7" height="70.3"/><line x1="447.4" y1="189.4" x2="447.4" y2="188.4"/><line x1="445.8" y1="188.4" x2="449" y2="188.4"/><rect x="464" y="185" width="5.7" height="74.7"/><line x1="466.8" y1="185" x2="466.8" y2="184.3"/><line x1="465.2" y1="184.3" x2="468.4" y2="184.3"/><rect x="483.4" y="184.3" width="5.7" height="75.4"/><line x1="486.3" y1="184.3" x2="486.3" y2="183.7"/><line x1="484.7" y1="183.7" x2="487.9" y2="183.7"/><rect x="502.8" y="187.3" width="5.7" height="72.4"/><line x1="505.7" y1="187.3" x2="505.7" y2="179.3"/><line x1="504.1" y1="179.3" x2="507.3" y2="179.3"/><rect x="522.3" y="179.4" width="5.7" height="80.3"/><line x1="525.1" y1="179.4" x2="525.1" y2="176.7"/><line x1="523.5" y1="176.7" x2="526.7" y2="176.7"/><rect x="541.7" y="182.8" width="5.7" height="76.9"/><line x1="544.5" y1="182.8" x2="544.5" y2="180.6"/><line x1="542.9" y1="180.6" x2="546.1" y2="180.6"/><rect x="561.1" y="251.1" width="5.7" height="8.6"/><line x1="564" y1="251.1" x2="564" y2="250.8"/><line x1="562.4" y1="250.8" x2="565.6" y2="250.8"/><rect x="580.6" y="249.4" width="5.7" height="10.3"/><line x1="583.4" y1="249.4" x2="583.4" y2="249.1"/><line x1="581.8" y1="249.1" x2="585" y2="249.1"/><rect x="600" y="248.3" width="5.7" height="11.4"/><line x1="602.8" y1="248.3" x2="602.8" y2="247.9"/><line x1="601.2" y1="247.9" x2="604.4" y2="247.9"/><rect x="619.4" y="244.3" width="5.7" height="15.4"/><line x1="622.3" y1="244.3" x2="622.3" y2="243.9"/><line x1="620.7" y1="243.9" x2="623.9" y2="243.9"/><rect x="638.9" y="242.8" width="5.7" height="16.9"/><line x1="641.7" y1="242.8" x2="641.7" y2="242.4"/><line x1="640.1" y1="242.4" x2="643.3" y2="242.4"/><rect x="658.3" y="243.3" width="5.7" height="16.4"/><line x1="661.1" y1="243.3" x2="661.1" y2="242.2"/><line x1="659.5" y1="242.2" x2="662.7" y2="242.2"/></g>
<g fill="#1e1e1e"><polygon points="464.9,177.6 465.6,178.9 467,179.1 466,180.1 466.2,181.6 464.9,180.9 463.6,181.6 463.8,180.1 462.8,179.1 464.2,178.9"/><polygon points="469.5,177.6 470.2,178.9 471.6,179.1 470.6,180.1 470.8,181.6 469.5,180.9 468.2,181.6 468.4,180.1 467.4,179.1 468.8,178.9"/><polygon points="484.5,177.6 485.2,178.9 486.6,179.1 485.6,180.1 485.8,181.6 484.5,180.9 483.2,181.6 483.4,180.1 482.4,179.1 483.8,178.9"/><polygon points="489.1,177.6 489.8,178.9 491.2,179.1 490.2,180.1 490.4,181.6 489.1,180.9 487.8,181.6 488,180.1 487,179.1 488.4,178.9"/><polygon points="523.3,170.8 524,172.1 525.4,172.3 524.4,173.3 524.6,174.8 523.3,174.1 522,174.8 522.2,173.3 521.2,172.3 522.6,172.1"/><polygon points="527.9,170.8 528.6,172.1 530,172.3 529,173.3 529.2,174.8 527.9,174.1 526.6,174.8 526.8,173.3 525.8,172.3 527.2,172.1"/><polygon points="545.3,173.3 546,174.7 547.4,174.9 546.4,175.9 546.6,177.4 545.3,176.7 544,177.4 544.2,175.9 543.2,174.9 544.6,174.7"/><polygon points="607,227.7 607.7,229 609.1,229.2 608.1,230.2 608.3,231.7 607,231 605.7,231.7 605.9,230.2 604.9,229.2 606.3,229"/><polygon points="611.9,227.7 612.5,229 614,229.2 612.9,230.2 613.2,231.7 611.9,231 610.5,231.7 610.8,230.2 609.7,229.2 611.2,229"/><polygon points="616.7,227.7 617.4,229 618.8,229.2 617.8,230.2 618,231.7 616.7,231 615.4,231.7 615.6,230.2 614.6,229.2 616,229"/></g>
<g stroke="#4a4a4a" stroke-width="1.2"><line x1="557.8" y1="234.2" x2="671.3" y2="234.2"/></g>
<g stroke="#1e1e1e" stroke-width="1.9"><line x1="439.4" y1="291.7" x2="550.4" y2="291.7"/><line x1="558.4" y1="291.7" x2="671.3" y2="291.7"/></g>
<g stroke="#262626" stroke-width="1.0" fill="none"><line x1="67.6" y1="514.2" x2="67.6" y2="598.3"/><line x1="82" y1="514.2" x2="82" y2="598.3"/><line x1="96.3" y1="514.2" x2="96.3" y2="598.3"/><line x1="110.7" y1="514.2" x2="110.7" y2="598.3"/><line x1="125" y1="514.2" x2="125" y2="598.3"/><line x1="139.4" y1="514.2" x2="139.4" y2="598.3"/><line x1="153.8" y1="514.2" x2="153.8" y2="598.3"/><line x1="168.1" y1="514.2" x2="168.1" y2="598.3"/><line x1="182.5" y1="514.2" x2="182.5" y2="598.3" stroke="#555" stroke-width="0.9"/><line x1="67.6" y1="514.2" x2="182.5" y2="514.2"/><line x1="67.6" y1="535.4" x2="182.5" y2="535.4"/><line x1="67.6" y1="556.7" x2="182.5" y2="556.7"/><line x1="67.6" y1="578" x2="182.5" y2="578"/><line x1="67.6" y1="598.3" x2="182.5" y2="598.3"/></g>
<g fill="none" stroke-width="1.5" stroke-linejoin="round"><path d="M67.6 514.2 L67.6 476 L67.8 509.5 L68.7 507.6 L69.5 508.6 L70.2 505.8 L71 503.4 L71.7 499.2 L72.3 492.3 L73 490.8 L73.8 488.8 L74.5 481.5 L75.2 481.5 L76.2 479.2 L77.1 476 L78 478.7 L79 483.8 L80 484.2 L80.9 491.1 L81.6 493.7 L82.3 494.9 L83 497.9 L83.7 501.8 L84.3 500.9 L85 502.8 L85.8 503.3 L86.6 504.3 L87.3 504.6 L88 506.7 L88.8 506.3 L89.5 505.9 L90.4 506.8 L91.4 508.5 L92.3 508.2 L93.2 508.1 L94.1 508.3 L95 508.9 L95.8 508.7 L96.5 508.7 L97.2 507.9 L98 507.6 L98.9 509.2 L99.8 509.8 L100.6 508.9 L101.5 511.4 L102.3 511.4 L103.1 511.1 L103.9 511.5 L104.7 511.1 L105.5 510.9 L106.2 512.1 L107 512.4 L107.8 511.5 L108.5 513.1 L109.4 513.4 L110.3 512.4 L111.2 514 L112 513.1 L112.8 514.1 L113.6 513.5 L114.4 514 L115.2 513.9 L116 514.2 L117.2 514.2 L118.4 514.4 L119.6 514.3 L120.8 514.3 L122 514.1 L123.2 514.4 L124.4 514.4 L125.6 514.3 L126.8 514.5 L128 514.4 L129.2 514.1 L130.4 514 L131.6 514.3 L132.8 514.4 L134 514.1 L135.2 514.3 L136.4 514.4 L137.6 514.4 L138.8 513.9 L140 514.2 L141.2 513.9 L142.4 514 L143.6 514.4 L144.8 514.2 L146 514.3 L147.2 514.2 L148.4 514.1 L149.6 514 L150.8 514.1 L152 514.4 L153.2 514.3 L154.4 514.1 L155.6 514 L156.8 514.1 L158 514.3 L159.2 514.2 L160.4 514.3 L161.6 514.4 L162.8 514 L164 514.3 L165.2 513.9 L166.4 514.4 L167.6 514 L168.8 514.1 L170 514.5 L171.2 514.1 L172.4 514 L173.6 514.4 L174.8 514.3 L176 514.4 L177.2 514.1 L178.4 514.2 L179.6 514.5 L180.8 514.2 L182 514.5 L182.5 514.2" stroke="#3a9bd8"/><path d="M67.6 535.4 L67.6 516 L67.8 531.7 L68.4 528.5 L69 527.6 L69.7 523.9 L70.4 525.3 L71.1 519.4 L71.8 516.7 L72.5 510 L73.3 505.5 L74 504.8 L74.7 503.4 L75.4 498.4 L76.1 498.4 L77 496.8 L78 492.7 L79 498.7 L79.9 502.3 L80.8 507.7 L81.8 515 L82.5 517.7 L83.2 519.9 L84 522.3 L84.7 524.8 L85.6 523.9 L86.5 526.5 L87.5 524.3 L88.5 527.3 L89.3 527.6 L90.2 528.1 L91 530.1 L91.8 530 L92.6 530.5 L93.4 528.9 L94.2 529.6 L95 531.8 L95.7 531.7 L96.5 531.1 L97.2 531.2 L98 530.1 L98.8 531.1 L99.5 532 L100.3 531.7 L101 533.1 L101.8 532.9 L102.5 532.7 L103.3 533.9 L104 533.7 L104.8 533.8 L105.5 533.6 L106.3 534.9 L107 534.6 L107.8 534.2 L108.5 534.3 L109.3 535.4 L110.1 535.4 L110.9 534.9 L111.7 534.8 L112.4 535.6 L113.2 535 L114 535.4 L115.2 535.5 L116.4 535.2 L117.6 535.3 L118.8 535.1 L120 535.3 L121.2 535.3 L122.4 535.7 L123.6 535.7 L124.8 535.2 L126 535.3 L127.2 535.7 L128.4 535.2 L129.6 535.3 L130.8 535.4 L132 535.2 L133.2 535.3 L134.4 535.3 L135.6 535.3 L136.8 535.7 L138 535.3 L139.2 535.2 L140.4 535.6 L141.6 535.4 L142.8 535.6 L144 535.5 L145.2 535.6 L146.4 535.3 L147.6 535.2 L148.8 535.6 L150 535.4 L151.2 535.4 L152.4 535.5 L153.6 535.6 L154.8 535.3 L156 535.3 L157.2 535.7 L158.4 535.4 L159.6 535.3 L160.8 535.5 L162 535.3 L163.2 535.6 L164.4 535.1 L165.6 535.6 L166.8 535.4 L168 535.3 L169.2 535.7 L170.4 535.3 L171.6 535.2 L172.8 535.1 L174 535.4 L175.2 535.6 L176.4 535.5 L177.6 535.3 L178.8 535.6 L180 535.2 L181.2 535.3 L182.4 535.5 L182.5 535.4" stroke="#e0449c"/><path d="M67.6 556.7 L67.6 551 L67.8 555.5 L68.7 555.1 L69.5 554.3 L70.5 553.8 L71.4 552.3 L72.3 550.2 L73.1 550.7 L74 548.4 L74.8 547.3 L75.5 547.9 L76.3 547.5 L77.1 547.8 L77.9 548.9 L78.7 546.9 L79.4 545.7 L80.2 546.7 L81 548.2 L81.7 547.8 L82.5 547.8 L83.2 547.9 L84 547 L84.7 548.9 L85.5 548.5 L86.3 546.2 L87.1 548 L87.9 548.4 L88.7 548.8 L89.5 548.5 L90.3 547.6 L91.1 547 L91.8 547.8 L92.6 545.2 L93.4 547.2 L94.2 546.7 L95 545.4 L95.7 544.5 L96.5 547.1 L97.2 545 L98 544.6 L98.8 544.5 L99.5 546 L100.3 546.6 L101 545.7 L101.8 545.2 L102.7 542.7 L103.6 545.4 L104.5 541.9 L105.2 544 L106 541.9 L106.7 541.3 L107.4 542.6 L108.1 542.8 L108.8 543.6 L109.5 543.4 L110.3 540 L111.2 539.9 L112.1 540.7 L113 541.5 L114 543.2 L115 544.4 L115.8 542.7 L116.5 545.7 L117.2 545.4 L118 544.7 L118.9 548.8 L119.8 549 L120.7 549.5 L121.6 549 L122.6 551.7 L123.5 552.5 L124.2 553 L125 554.2 L125.7 554.2 L126.4 556 L127.3 556.5 L128.1 556.8 L129 556.4 L129.8 557.1 L130.6 556.7 L131.3 556.3 L132.1 556.7 L133.3 556.7 L134.5 556.8 L135.7 556.8 L136.9 556.7 L138.1 556.6 L139.3 556.5 L140.5 556.6 L141.7 556.6 L142.9 556.5 L144.1 556.8 L145.3 556.7 L146.5 556.7 L147.7 556.5 L148.9 556.8 L150.1 556.5 L151.3 556.6 L152.5 556.7 L153.7 556.8 L154.9 557 L156.1 556.8 L157.3 557 L158.5 557 L159.7 556.8 L160.9 556.8 L162.1 556.4 L163.3 556.5 L164.5 556.4 L165.7 556.9 L166.9 556.8 L168.1 556.8 L169.3 556.6 L170.5 556.6 L171.7 556.5 L172.9 556.8 L174.1 557 L175.3 556.6 L176.5 556.4 L177.7 556.5 L178.9 556.6 L180.1 556.9 L181.3 556.9 L182.5 556.7 L182.5 556.7" stroke="#6cbd3c"/><path d="M67.6 578 L67.6 565 L67.8 575 L68.8 572.2 L69.7 572.3 L70.6 571.8 L71.4 570.6 L72.3 570.1 L73.1 569.9 L74 567.2 L74.8 566.9 L75.5 568 L76.3 566.7 L77.1 566 L77.9 565.5 L78.7 568.4 L79.4 569.7 L80.2 570.4 L81 569.8 L81.7 568.6 L82.5 570 L83.2 567.9 L84 567.8 L84.7 568.9 L85.5 570.2 L86.3 568.1 L87.1 570.4 L87.9 569.9 L88.7 567.3 L89.5 570 L90.4 568.6 L91.2 567.7 L92.1 568.3 L92.9 568.8 L93.8 567.6 L94.6 566.2 L95.5 566.5 L96.3 567 L97.2 566.1 L98 568 L98.8 566.3 L99.5 567.2 L100.3 567.2 L101.1 566.9 L101.8 566.1 L102.6 564.9 L103.3 567.6 L104.1 566.7 L104.8 566.2 L105.5 566.7 L106.3 566.5 L107 566.2 L107.8 566.4 L108.7 565.6 L109.5 567.1 L110.4 565.8 L111.2 563.6 L111.8 566.4 L112.4 562.8 L113.3 564.4 L114.1 566.8 L115 567.2 L115.7 568.4 L116.5 566.6 L117.2 570.4 L117.9 570 L118.6 567.8 L119.3 568.4 L120 571.8 L120.9 570.6 L121.7 572.8 L122.6 573.5 L123.5 574.9 L124.4 574 L125.1 574 L125.8 576 L126.5 574.9 L127.4 576.6 L128.3 576.7 L129.2 578 L130.1 578 L131 578 L132.2 577.8 L133.4 578.2 L134.6 578.2 L135.8 578.2 L137 577.7 L138.2 578.2 L139.4 578 L140.6 578.2 L141.8 578 L143 578.1 L144.2 578.1 L145.4 578.2 L146.6 577.7 L147.8 577.7 L149 578 L150.2 577.9 L151.4 577.9 L152.6 577.7 L153.8 578.1 L155 577.7 L156.2 578.2 L157.4 578.2 L158.6 578 L159.8 577.8 L161 578.1 L162.2 577.8 L163.4 578 L164.6 577.8 L165.8 578.3 L167 578 L168.2 577.9 L169.4 577.8 L170.6 578.1 L171.8 578.2 L173 578.2 L174.2 577.8 L175.4 577.9 L176.6 577.9 L177.8 578.2 L179 577.8 L180.2 578.1 L181.4 578.3 L182.5 578.2 L182.5 578" stroke="#dc2230"/><path d="M67.6 598.3 L68.4 598 L69.2 598.1 L70 598 L70.7 593.7 L71.4 589.5 L72.1 584.4 L72.8 579.1 L73.4 574.7 L74 570.3 L75 563.6 L76 556.4 L77 549.6 L78 546.6 L79 549.1 L80 555.5 L81 561.5 L81.7 566.5 L82.3 571.9 L83 576.7 L83.8 582.1 L84.7 587.5 L85.4 589 L86.1 591.2 L87 592.6 L88 594.2 L88.9 595 L89.8 596 L90.7 596.8 L91.6 597.4 L92.4 597.7 L93.3 597.7 L94.2 598.2 L95 598.3" stroke="#8a8a8a" stroke-width="0.8"/></g>
<g stroke="#2a2a2a" stroke-width="1.5"><line x1="93.6" y1="469.6" x2="181.6" y2="469.6"/><line x1="93.6" y1="466.6" x2="93.6" y2="472.6"/><line x1="181.6" y1="466.6" x2="181.6" y2="472.6"/><line x1="184.3" y1="502.9" x2="229.6" y2="502.9"/><line x1="237.6" y1="509.8" x2="237.6" y2="538.6"/><line x1="237.6" y1="552" x2="237.6" y2="580.4"/></g>
<g stroke="#1e1e1e" stroke-width="1.3"><line x1="450.5" y1="483.9" x2="450.5" y2="559.4"/><line x1="446.5" y1="559.4" x2="582.1" y2="559.4"/><line x1="446.4" y1="559.4" x2="450.5" y2="559.4"/><line x1="446.4" y1="544.3" x2="450.5" y2="544.3"/><line x1="446.4" y1="529.2" x2="450.5" y2="529.2"/><line x1="446.4" y1="514.1" x2="450.5" y2="514.1"/><line x1="446.4" y1="499" x2="450.5" y2="499"/><line x1="446.4" y1="483.9" x2="450.5" y2="483.9"/><line x1="450.5" y1="559.4" x2="450.5" y2="563.3"/><line x1="483.4" y1="559.4" x2="483.4" y2="563.3"/><line x1="516.3" y1="559.4" x2="516.3" y2="563.3"/><line x1="549.2" y1="559.4" x2="549.2" y2="563.3"/><line x1="582.1" y1="559.4" x2="582.1" y2="563.3"/></g>
<g fill="#0a0a0a"><rect x="461.1" y="496.5" width="11.8" height="62.9"/><line x1="466.9" y1="496.5" x2="466.9" y2="495.8" stroke="#111" stroke-width="1.2"/><line x1="464.9" y1="495.8" x2="468.9" y2="495.8" stroke="#111" stroke-width="1.2"/><rect x="493.9" y="490.3" width="11.8" height="69.1"/><line x1="499.8" y1="490.3" x2="499.8" y2="488.2" stroke="#111" stroke-width="1.2"/><line x1="497.8" y1="488.2" x2="501.8" y2="488.2" stroke="#111" stroke-width="1.2"/><rect x="526.9" y="551.8" width="11.8" height="7.6"/><line x1="532.8" y1="551.8" x2="532.8" y2="551.6" stroke="#111" stroke-width="1.2"/><line x1="530.8" y1="551.6" x2="534.8" y2="551.6" stroke="#111" stroke-width="1.2"/><rect x="559.8" y="545.5" width="11.8" height="13.9"/><line x1="565.6" y1="545.5" x2="565.6" y2="544.5" stroke="#111" stroke-width="1.2"/><line x1="563.6" y1="544.5" x2="567.6" y2="544.5" stroke="#111" stroke-width="1.2"/></g>
<g fill="#1e1e1e"><polygon points="500.1,481.1 500.7,482.4 502.2,482.6 501.1,483.6 501.4,485.1 500.1,484.4 498.8,485.1 499.1,483.6 498,482.6 499.5,482.4"/><polygon points="563.4,537 564,538.3 565.5,538.5 564.4,539.5 564.7,541 563.4,540.3 562.1,541 562.4,539.5 561.3,538.5 562.8,538.3"/><polygon points="567.9,537 568.5,538.3 570,538.5 568.9,539.5 569.2,541 567.9,540.3 566.6,541 566.9,539.5 565.8,538.5 567.3,538.3"/><polygon points="544.1,522.4 544.7,523.7 546.2,523.9 545.1,524.9 545.4,526.4 544.1,525.7 542.8,526.4 543.1,524.9 542,523.9 543.5,523.7"/><polygon points="548.7,522.4 549.3,523.7 550.8,523.9 549.7,524.9 550,526.4 548.7,525.7 547.4,526.4 547.7,524.9 546.6,523.9 548.1,523.7"/><polygon points="553.3,522.4 553.9,523.7 555.4,523.9 554.3,524.9 554.6,526.4 553.3,525.7 552,526.4 552.3,524.9 551.2,523.9 552.7,523.7"/></g>
<g stroke="#4a4a4a" stroke-width="1.2"><line x1="518.7" y1="528.5" x2="581.4" y2="528.5"/></g>
<g stroke="#1e1e1e" stroke-width="1.9"><line x1="456.1" y1="583" x2="511" y2="583"/><line x1="519.7" y1="583" x2="579.1" y2="583"/></g>
<g fill="#1a1a1a"><text x="27.8" y="44.3" font-size="30.4" font-weight="bold" stroke="#1a1a1a" stroke-width="0.35">A</text><text x="61.5" y="63.3" font-size="12.6" font-weight="bold" text-anchor="middle" textLength="15.8" lengthAdjust="spacingAndGlyphs" stroke="#1a1a1a" stroke-width="0.45">M1</text><text x="174.2" y="78.7" font-size="12.6" font-weight="bold" text-anchor="middle" textLength="16.8" lengthAdjust="spacingAndGlyphs" stroke="#1a1a1a" stroke-width="0.45">M2</text><text x="253.2" y="151.6" font-size="11.9" stroke="#1a1a1a" stroke-width="0.55" textLength="49" lengthAdjust="spacingAndGlyphs">Glu. mM</text><text x="272" y="175.3" font-size="12.4" stroke="#1a1a1a" stroke-width="0.55">50</text><text x="272" y="190.4" font-size="12.4" stroke="#1a1a1a" stroke-width="0.55">40</text><text x="272" y="205.5" font-size="12.4" stroke="#1a1a1a" stroke-width="0.55">35</text><text x="272" y="220.6" font-size="12.4" stroke="#1a1a1a" stroke-width="0.55">30</text><text x="272" y="235.7" font-size="12.4" stroke="#1a1a1a" stroke-width="0.55">25</text><text x="272" y="250.9" font-size="12.4" stroke="#1a1a1a" stroke-width="0.55" textLength="25.4" lengthAdjust="spacingAndGlyphs">17.5</text><text x="272" y="266" font-size="12.4" stroke="#1a1a1a" stroke-width="0.55">50</text><text x="272" y="281.1" font-size="12.4" stroke="#1a1a1a" stroke-width="0.55">40</text><text x="272" y="296.2" font-size="12.4" stroke="#1a1a1a" stroke-width="0.55">35</text><text x="272" y="311.3" font-size="12.4" stroke="#1a1a1a" stroke-width="0.55">30</text><text x="272" y="326.4" font-size="12.4" stroke="#1a1a1a" stroke-width="0.55">25</text><text x="272" y="341.5" font-size="12.4" stroke="#1a1a1a" stroke-width="0.55" textLength="25.4" lengthAdjust="spacingAndGlyphs">17.5</text><text x="260.3" y="354" font-size="12.4" stroke="#1a1a1a" stroke-width="0.55" textLength="42.8" lengthAdjust="spacingAndGlyphs">unstain</text><text transform="translate(327.6 206) rotate(-90)" font-size="12.9" stroke="#1a1a1a" stroke-width="0.55" text-anchor="middle" textLength="28" lengthAdjust="spacingAndGlyphs">GlcN</text><text transform="translate(330.6 300.1) rotate(-90)" font-size="13.8" stroke="#1a1a1a" stroke-width="0.55" text-anchor="middle" textLength="43.2" lengthAdjust="spacingAndGlyphs">Vehicle</text><text transform="translate(25.4 245.9) rotate(-90)" font-size="14.2" stroke="#1a1a1a" stroke-width="0.55" text-anchor="middle" textLength="40.8" lengthAdjust="spacingAndGlyphs">Counts</text><text x="24.6" y="368" font-size="12.2" stroke="#1a1a1a" stroke-width="0.55">10<tspan font-size="6.6" dy="-4.9">0</tspan></text><text x="82.8" y="368" font-size="12.2" stroke="#1a1a1a" stroke-width="0.55">10<tspan font-size="6.6" dy="-4.9">1</tspan></text><text x="134.8" y="368" font-size="12.2" stroke="#1a1a1a" stroke-width="0.55">10<tspan font-size="6.6" dy="-4.9">2</tspan></text><text x="192.1" y="368" font-size="12.2" stroke="#1a1a1a" stroke-width="0.55">10<tspan font-size="6.6" dy="-4.9">3</tspan></text><text x="247.2" y="368" font-size="12.2" stroke="#1a1a1a" stroke-width="0.55">10<tspan font-size="6.6" dy="-4.9">4</tspan></text><text x="122.3" y="385" font-size="11.6" stroke="#1a1a1a" stroke-width="0.55" textLength="42.6" lengthAdjust="spacingAndGlyphs">C12fdg</text><text x="429.9" y="264.7" font-size="12.4" stroke="#1a1a1a" stroke-width="0.55" text-anchor="end">0</text><text x="429.9" y="245.2" font-size="12.4" stroke="#1a1a1a" stroke-width="0.55" text-anchor="end">16</text><text x="429.9" y="225.8" font-size="12.4" stroke="#1a1a1a" stroke-width="0.55" text-anchor="end">32</text><text x="429.9" y="206.3" font-size="12.4" stroke="#1a1a1a" stroke-width="0.55" text-anchor="end">48</text><text x="429.9" y="186.9" font-size="12.4" stroke="#1a1a1a" stroke-width="0.55" text-anchor="end">64</text><text x="429.9" y="167.4" font-size="12.4" stroke="#1a1a1a" stroke-width="0.55" text-anchor="end">80</text><g transform="translate(447.9 157.6) scale(1.14 1)"><text x="0" y="0" font-size="10.4" stroke="#1a1a1a" stroke-width="0.15"><tspan font-style="italic">p</tspan>(ANOVA)=8.4×10<tspan font-size="5.6" dy="-4.3">-2</tspan></text></g><g transform="translate(566.1 157.6) scale(1.14 1)"><text x="0" y="0" font-size="10.4" stroke="#1a1a1a" stroke-width="0.15"><tspan font-style="italic">p</tspan>(ANOVA)=3.5×10<tspan font-size="5.6" dy="-4.3">-8</tspan></text></g><text transform="translate(388.4 214.3) rotate(-90)" font-size="10.8" stroke="#1a1a1a" stroke-width="0.4" text-anchor="middle" textLength="94.6" lengthAdjust="spacingAndGlyphs">C12fdg intensity</text><text transform="translate(401.3 212.8) rotate(-90)" font-size="10.8" stroke="#1a1a1a" stroke-width="0.4" text-anchor="middle" textLength="94.6" lengthAdjust="spacingAndGlyphs">(% of M2-Gated)</text><text x="355.2" y="279.1" font-size="12.2" stroke="#1a1a1a" stroke-width="0.55" textLength="76.3" lengthAdjust="spacingAndGlyphs">Glucose mM:</text><text transform="translate(451.1 286.8) rotate(-90)" font-size="10.4" stroke="#1a1a1a" stroke-width="0.5">17.5</text><text transform="translate(470.5 286.8) rotate(-90)" font-size="10.4" stroke="#1a1a1a" stroke-width="0.5">25</text><text transform="translate(490 286.8) rotate(-90)" font-size="10.4" stroke="#1a1a1a" stroke-width="0.5">30</text><text transform="translate(509.4 286.8) rotate(-90)" font-size="10.4" stroke="#1a1a1a" stroke-width="0.5">35</text><text transform="translate(528.8 286.8) rotate(-90)" font-size="10.4" stroke="#1a1a1a" stroke-width="0.5">40</text><text transform="translate(548.2 286.8) rotate(-90)" font-size="10.4" stroke="#1a1a1a" stroke-width="0.5">50</text><text transform="translate(567.7 286.8) rotate(-90)" font-size="10.4" stroke="#1a1a1a" stroke-width="0.5">17.5</text><text transform="translate(587.1 286.8) rotate(-90)" font-size="10.4" stroke="#1a1a1a" stroke-width="0.5">25</text><text transform="translate(606.5 286.8) rotate(-90)" font-size="10.4" stroke="#1a1a1a" stroke-width="0.5">30</text><text transform="translate(626 286.8) rotate(-90)" font-size="10.4" stroke="#1a1a1a" stroke-width="0.5">35</text><text transform="translate(645.4 286.8) rotate(-90)" font-size="10.4" stroke="#1a1a1a" stroke-width="0.5">40</text><text transform="translate(664.8 286.8) rotate(-90)" font-size="10.4" stroke="#1a1a1a" stroke-width="0.5">50</text><text x="469.3" y="306.1" font-size="12.6" stroke="#1a1a1a" stroke-width="0.55" textLength="42.2" lengthAdjust="spacingAndGlyphs">Vehicle</text><text x="597.2" y="307.4" font-size="12" stroke="#1a1a1a" stroke-width="0.55" textLength="29.2" lengthAdjust="spacingAndGlyphs">GlcN</text><text x="26.6" y="432.8" font-size="28.8" font-weight="bold" stroke="#1a1a1a" stroke-width="0.35">B</text><text x="139" y="467.1" font-size="8.4" font-weight="bold" text-anchor="middle" textLength="12.2" lengthAdjust="spacingAndGlyphs" stroke="#1a1a1a" stroke-width="0.3">M2</text><text x="183.2" y="498.5" font-size="12.2" stroke="#1a1a1a" stroke-width="0.55" textLength="49.2" lengthAdjust="spacingAndGlyphs">Glu. mM</text><text x="200.3" y="518.8" font-size="12.8" stroke="#1a1a1a" stroke-width="0.55" textLength="14.8" lengthAdjust="spacingAndGlyphs">50</text><text x="200.3" y="539.2" font-size="12.8" stroke="#1a1a1a" stroke-width="0.55" textLength="25.4" lengthAdjust="spacingAndGlyphs">17.5</text><text x="200.3" y="560.5" font-size="12.8" stroke="#1a1a1a" stroke-width="0.55" textLength="14.8" lengthAdjust="spacingAndGlyphs">50</text><text x="200.3" y="580.4" font-size="12.8" stroke="#1a1a1a" stroke-width="0.55" textLength="25.4" lengthAdjust="spacingAndGlyphs">17.5</text><text x="187.4" y="597.7" font-size="12.6" stroke="#1a1a1a" stroke-width="0.55" textLength="42.2" lengthAdjust="spacingAndGlyphs">unstain</text><text x="243.4" y="529.3" font-size="12.6" stroke="#1a1a1a" stroke-width="0.55" textLength="29" lengthAdjust="spacingAndGlyphs">GlcN</text><text x="244" y="568.5" font-size="12.6" stroke="#1a1a1a" stroke-width="0.55" textLength="42.9" lengthAdjust="spacingAndGlyphs">Vehicle</text><text x="59.7" y="610.4" font-size="12.2" stroke="#1a1a1a" stroke-width="0.55">10<tspan font-size="6.6" dy="-4.9">0</tspan></text><text x="87" y="610.4" font-size="12.2" stroke="#1a1a1a" stroke-width="0.55">10<tspan font-size="6.6" dy="-4.9">1</tspan></text><text x="116.6" y="610.4" font-size="12.2" stroke="#1a1a1a" stroke-width="0.55">10<tspan font-size="6.6" dy="-4.9">2</tspan></text><text x="145.7" y="610.4" font-size="12.2" stroke="#1a1a1a" stroke-width="0.55">10<tspan font-size="6.6" dy="-4.9">3</tspan></text><text x="173.5" y="610.4" font-size="12.2" stroke="#1a1a1a" stroke-width="0.55">10<tspan font-size="6.6" dy="-4.9">4</tspan></text><text x="96.6" y="625.3" font-size="12.7" stroke="#1a1a1a" stroke-width="0.55" textLength="57.4" lengthAdjust="spacingAndGlyphs">DCFH-DA</text><text transform="translate(63.8 549.5) rotate(-90)" font-size="14.2" stroke="#1a1a1a" stroke-width="0.55" text-anchor="middle" textLength="41.2" lengthAdjust="spacingAndGlyphs">Counts</text><text x="443.5" y="564.5" font-size="12.4" stroke="#1a1a1a" stroke-width="0.55" text-anchor="end">0</text><text x="443.5" y="549.4" font-size="12.4" stroke="#1a1a1a" stroke-width="0.55" text-anchor="end">14</text><text x="443.5" y="534.3" font-size="12.4" stroke="#1a1a1a" stroke-width="0.55" text-anchor="end">28</text><text x="443.5" y="519.2" font-size="12.4" stroke="#1a1a1a" stroke-width="0.55" text-anchor="end">42</text><text x="443.5" y="504.1" font-size="12.4" stroke="#1a1a1a" stroke-width="0.55" text-anchor="end">56</text><text x="443.5" y="489" font-size="12.4" stroke="#1a1a1a" stroke-width="0.55" text-anchor="end">70</text><text transform="translate(405.5 525.4) rotate(-90)" font-size="9.8" stroke="#1a1a1a" stroke-width="0.4" text-anchor="middle" textLength="84" lengthAdjust="spacingAndGlyphs">C12fdg intensity</text><text transform="translate(418.4 525) rotate(-90)" font-size="10.6" stroke="#1a1a1a" stroke-width="0.4" text-anchor="middle" textLength="84.8" lengthAdjust="spacingAndGlyphs">(% of M2-Gated)</text><text x="374.3" y="580" font-size="12.2" stroke="#1a1a1a" stroke-width="0.55" textLength="76.2" lengthAdjust="spacingAndGlyphs">Glucose mM:</text><text x="455.5" y="579.6" font-size="12.4" stroke="#1a1a1a" stroke-width="0.55" textLength="25.4" lengthAdjust="spacingAndGlyphs">17.5</text><text x="494.5" y="579.6" font-size="12.4" stroke="#1a1a1a" stroke-width="0.55" textLength="13.9" lengthAdjust="spacingAndGlyphs">50</text><text x="520.7" y="579.6" font-size="12.4" stroke="#1a1a1a" stroke-width="0.55" textLength="25.4" lengthAdjust="spacingAndGlyphs">17.5</text><text x="559.4" y="579.6" font-size="12.4" stroke="#1a1a1a" stroke-width="0.55" textLength="13.9" lengthAdjust="spacingAndGlyphs">50</text><text x="461.9" y="597.4" font-size="12.6" stroke="#1a1a1a" stroke-width="0.55" textLength="43.2" lengthAdjust="spacingAndGlyphs">Vehicle</text><text x="532" y="597.5" font-size="12.4" stroke="#1a1a1a" stroke-width="0.55" textLength="29.8" lengthAdjust="spacingAndGlyphs">GlcN</text></g>
</svg>
</body></html>
